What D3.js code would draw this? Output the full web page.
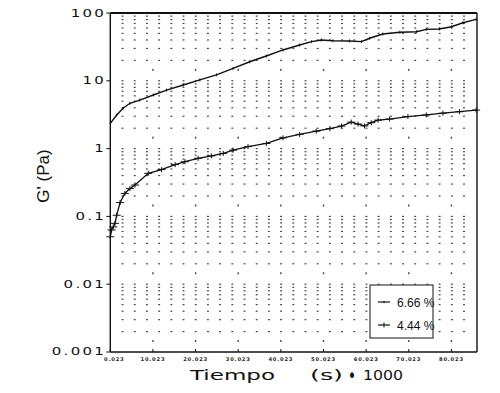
<!DOCTYPE html>
<html>
<head>
<meta charset="utf-8">
<script src="https://cdn.jsdelivr.net/npm/d3@7.9.0/dist/d3.min.js"></script>
<style>
  body { margin: 0; background: #fff; }
  svg { display: block; }
</style>
</head>
<body>
<svg width="500" height="393"></svg>
<script>
// tiempo (s/1000) and G' (Pa)
const timeHigh = [0, 1.5, 3.0, 4.6, 6.9, 10.1, 13.2, 17.1, 21.0, 24.9, 28.8, 32.7, 36.6, 40.5, 44.4, 47.2, 49.5, 52.2, 56.1, 58.9, 60.8, 63.9, 67.9, 71.8, 74.1, 77.2, 80.0, 82.7, 85.8];
const gHigh = [2.36, 3.13, 3.93, 4.66, 5.2, 6.18, 7.3, 8.67, 10.3, 12.2, 15.3, 19.1, 23.2, 28.5, 33.7, 37.8, 40, 38.9, 38.7, 37.8, 42.4, 49, 51.9, 52.9, 57.4, 58, 62.8, 71.9, 80.7];

const timeLow = [0, 0.3, 0.7, 1.1, 1.5, 2.3, 3.4, 4.6, 5.8, 8.9, 12.0, 15.2, 17.5, 20.6, 23.7, 26.5, 28.8, 32.3, 36.6, 40.5, 44.4, 48.3, 51.5, 54.2, 56.5, 58.1, 59.6, 61.2, 62.8, 65.5, 69.8, 74.1, 78.0, 81.9, 85.8];
const gLow = [0.05, 0.063, 0.07, 0.079, 0.104, 0.16, 0.218, 0.257, 0.29, 0.432, 0.49, 0.58, 0.64, 0.72, 0.78, 0.85, 0.95, 1.07, 1.19, 1.44, 1.62, 1.81, 1.97, 2.15, 2.46, 2.3, 2.16, 2.41, 2.63, 2.73, 2.97, 3.14, 3.33, 3.5, 3.7];

const seriesNames = ['6.66 %', '4.44 %'];

const xTicks = [0, 10, 20, 30, 40, 50, 60, 70, 80];
const xTickLabels = ['0.023', '10.023', '20.023', '30.023', '40.023', '50.023', '60.023', '70.023', '80.023'];
const yTicks = [0.001, 0.01, 0.1, 1, 10, 100];
const yTickLabels = ['0.001', '0.01', '0.1', '1', '10', '100'];

const svg = d3.select('svg');
const plotL = 110.3, plotR = 477, plotT = 13, plotB = 352;

const x = d3.scaleLinear().domain([0, 86]).range([plotL, plotR]);
const y = d3.scaleLog().domain([0.001, 100]).range([plotB, plotT]);

// dotted grid: log minor rows x evenly spaced columns
const rows = [];
[0.001, 0.01, 0.1, 1, 10].forEach(d => {
  for (let m = 1; m <= 9; m++) {
    if (d === 0.001 && m === 1) continue;
    rows.push(d * m);
  }
});
const cols = d3.range(1, 31).map(k => k * 2.86).filter(t => t < 85.5);

const grid = svg.append('g').attr('fill', '#444');
cols.forEach(t => {
  rows.forEach(v => {
    grid.append('rect')
      .attr('x', x(t) - 0.9)
      .attr('y', y(v) - 0.6)
      .attr('width', 1.9)
      .attr('height', 1.2);
  });
});
// extra dots on the major columns
xTicks.slice(1).forEach(t => {
  [0.001, 0.01, 0.1, 1, 10].forEach(d => {
    grid.append('rect')
      .attr('x', x(t) - 0.7)
      .attr('y', y(d * 1.45) - 1)
      .attr('width', 1.4)
      .attr('height', 2);
  });
});

// frame
svg.append('line').attr('x1', plotL).attr('x2', plotL).attr('y1', plotT).attr('y2', plotB)
  .attr('stroke', '#111').attr('stroke-width', 1.4);
svg.append('line').attr('x1', plotL).attr('x2', plotR).attr('y1', plotB).attr('y2', plotB)
  .attr('stroke', '#111').attr('stroke-width', 1.4);
svg.append('line').attr('x1', plotL).attr('x2', plotR).attr('y1', plotT).attr('y2', plotT)
  .attr('stroke', '#111').attr('stroke-width', 2);
svg.append('line').attr('x1', plotR).attr('x2', plotR).attr('y1', plotT).attr('y2', plotB)
  .attr('stroke', '#111').attr('stroke-width', 1.4);

// x ticks + labels
xTicks.forEach((t, i) => {
  svg.append('line').attr('x1', x(t)).attr('x2', x(t)).attr('y1', plotB).attr('y2', plotB - 3)
    .attr('stroke', '#111');
  svg.append('text')
    .attr('x', x(t) + (i === 0 ? 4 : 0)).attr('y', 360.5)
    .attr('text-anchor', 'middle')
    .attr('font-family', 'DejaVu Sans')
    .attr('font-size', 5.2)
    .attr('font-weight', 'bold')
    .attr('letter-spacing', 0.8)
    .attr('fill', '#222')
    .text(xTickLabels[i]);
});

// y ticks + labels
yTicks.forEach((v, i) => {
  svg.append('line').attr('x1', plotL - 4).attr('x2', plotL).attr('y1', y(v)).attr('y2', y(v))
    .attr('stroke', '#111');
  svg.append('text')
    .attr('transform', `translate(106,${y(v) + (i === 0 ? 2.6 : 3.6)}) scale(1.5,1)`)
    .attr('text-anchor', 'end')
    .attr('font-family', 'DejaVu Sans')
    .attr('font-size', 10)
    .attr('letter-spacing', 1.5)
    .attr('fill', '#111')
    .text(yTickLabels[i]);
});

// axis titles, each piece stretched to its width in the scan
const xTitle = [['Tiempo', 190, 85, 14, 380], ['(s)', 310, 33, 14, 380], ['\u2022', 348, 8, 20, 382], ['1000', 363, 40, 14, 380]];
xTitle.forEach(([s, px, w, fs, py]) => {
  svg.append('text')
    .attr('x', px).attr('y', py)
    .attr('font-family', 'DejaVu Sans')
    .attr('font-size', fs)
    .attr('textLength', w)
    .attr('lengthAdjust', 'spacingAndGlyphs')
    .attr('fill', '#111')
    .text(s);
});

svg.append('text')
  .attr('transform', 'translate(49,176) rotate(-90)')
  .attr('text-anchor', 'middle')
  .attr('font-family', '"Liberation Sans Narrow", "Liberation Sans", sans-serif')
  .attr('font-size', 17)
  .attr('fill', '#111')
  .text("G' (Pa)");

// series
const line = d3.line().x(d => x(d[0])).y(d => y(d[1]));
const high = timeHigh.map((t, i) => [t, gHigh[i]]);
const low = timeLow.map((t, i) => [t, gLow[i]]);

svg.append('path').datum(high).attr('d', line)
  .attr('fill', 'none').attr('stroke', '#111').attr('stroke-width', 1.4);
svg.append('path').datum(low).attr('d', line)
  .attr('fill', 'none').attr('stroke', '#111').attr('stroke-width', 1.3);

// markers: small ticks on 6.66 %, crosses on 4.44 %
svg.append('g').selectAll('line').data(high).join('line')
  .attr('x1', d => x(d[0])).attr('x2', d => x(d[0]))
  .attr('y1', d => y(d[1]) - 1.5).attr('y2', d => y(d[1]) + 1.5)
  .attr('stroke', '#111').attr('stroke-width', 0.9);

const cross = svg.append('g').attr('stroke', '#111').attr('stroke-width', 1);
low.forEach(d => {
  const cx = x(d[0]), cy = y(d[1]);
  cross.append('line').attr('x1', cx - 4).attr('x2', cx + 4).attr('y1', cy).attr('y2', cy);
  cross.append('line').attr('x1', cx).attr('x2', cx).attr('y1', cy - 2.5).attr('y2', cy + 2.5);
});

// legend
const lg = svg.append('g');
lg.append('rect').attr('x', 370).attr('y', 285).attr('width', 63).attr('height', 53)
  .attr('fill', '#fff').attr('stroke', '#111').attr('stroke-width', 1);
seriesNames.forEach((name, i) => {
  const ly = 302 + i * 23;
  lg.append('line').attr('x1', 378).attr('x2', 390).attr('y1', ly).attr('y2', ly)
    .attr('stroke', '#111').attr('stroke-width', 1.2);
  lg.append('line').attr('x1', 384).attr('x2', 384)
    .attr('y1', ly - (i ? 2.5 : 1.2)).attr('y2', ly + (i ? 2.5 : 1.2))
    .attr('stroke', '#111');
  lg.append('text')
    .attr('x', 397).attr('y', ly + 4.5)
    .attr('font-family', '"Liberation Sans", Arial, sans-serif')
    .attr('font-size', 12)
    .attr('fill', '#111')
    .text(name);
});
</script>
</body>
</html>
